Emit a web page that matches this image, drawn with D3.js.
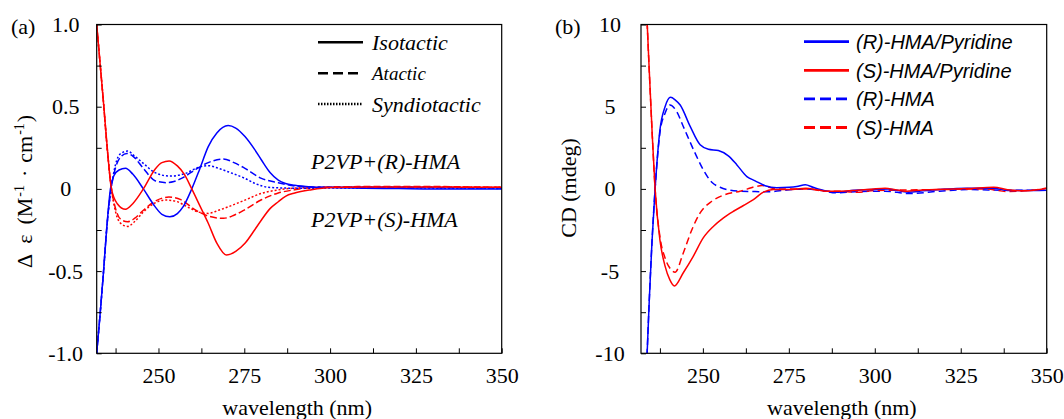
<!DOCTYPE html>
<html><head><meta charset="utf-8">
<script src="https://cdn.jsdelivr.net/npm/d3@7"></script>
<style>
body{margin:0;background:#fff;}
svg{display:block;}
</style></head>
<body>
<svg id="chart" width="1064" height="419"></svg>
<script>
// ---------- DATA ----------
// Panel (a): [wavelength nm, Δε]
const isoR = [[232,-1.0],[233,-0.76],[234,-0.5],[235,-0.22],[236,0.0],[237,0.08],[238.5,0.115],[240.4,0.125],[242.5,0.09],[245.6,0.0],[249,-0.108],[251,-0.155],[253.3,-0.17],[255.5,-0.15],[257.2,-0.108],[259.7,0.0],[262,0.12],[264.5,0.257],[267,0.34],[270.3,0.385],[272.5,0.37],[275.2,0.318],[278,0.24],[280,0.176],[282.5,0.1],[284.9,0.054],[287,0.033],[289.7,0.022],[294.6,0.012],[300,0.008],[310,0.004],[320,0.002],[330,0.0],[340,0.0],[350,0.0]];
const isoS = [[232,1.0],[233,0.76],[234,0.52],[235,0.27],[236.3,0.0],[238,-0.09],[240.4,-0.124],[242.5,-0.09],[245.6,0.0],[249,0.12],[251,0.16],[253.1,0.17],[255.5,0.14],[257.5,0.09],[259.7,0.0],[262,-0.1],[264.5,-0.209],[267,-0.33],[269.8,-0.402],[272.5,-0.38],[275.2,-0.331],[278,-0.25],[280,-0.189],[282.5,-0.12],[284.9,-0.078],[287,-0.045],[289.7,-0.025],[294.6,-0.005],[300,0.008],[310,0.012],[320,0.012],[330,0.012],[340,0.01],[350,0.01]];
const ataR = [[232,-1.0],[233,-0.76],[234,-0.5],[235,-0.22],[236.2,0.0],[237.5,0.13],[239,0.195],[240.8,0.216],[242.5,0.2],[245.6,0.125],[249,0.05],[252.3,0.038],[254.5,0.045],[256.7,0.064],[260.6,0.115],[264.5,0.16],[268.9,0.182],[272,0.16],[275.2,0.125],[280,0.064],[284.9,0.038],[289.7,0.018],[295,0.012],[300,0.01],[310,0.01],[320,0.01],[330,0.008],[340,0.006],[350,0.005]];
const syndR = [[232,-1.0],[233,-0.76],[234,-0.5],[235,-0.22],[236.2,0.0],[237.5,0.15],[239,0.215],[241,0.23],[243,0.2],[245.6,0.155],[249,0.099],[253.3,0.078],[257.7,0.093],[261.6,0.131],[264.5,0.141],[267.5,0.125],[270.3,0.104],[275.2,0.064],[278.5,0.03],[282,0.01],[290,0.004],[300,0.005],[320,0.005],[350,0.003]];
const ataS = [[232,1.0],[233,0.76],[234,0.52],[235,0.26],[236.3,0.0],[237.5,-0.12],[239,-0.185],[241,-0.2],[243,-0.18],[245.6,-0.13],[249,-0.075],[253,-0.05],[256.5,-0.065],[260.6,-0.126],[264.5,-0.165],[268.9,-0.179],[272,-0.16],[275.2,-0.126],[280,-0.066],[284.9,-0.025],[289.7,-0.005],[295,0.008],[300,0.012],[310,0.014],[320,0.014],[330,0.015],[340,0.012],[350,0.01]];
const syndS = [[232,1.0],[233,0.76],[234,0.52],[235,0.26],[236.3,0.0],[237.5,-0.14],[239,-0.21],[241,-0.228],[243,-0.2],[245.6,-0.14],[249,-0.085],[252,-0.068],[255,-0.075],[258.5,-0.11],[261.5,-0.14],[264.5,-0.149],[267.5,-0.13],[270.3,-0.109],[275.2,-0.068],[280,-0.027],[284.9,-0.006],[290,0.005],[300,0.01],[320,0.012],[350,0.01]];

// Panel (b): [wavelength nm, CD mdeg]
const pyrR = [[233.5,-11.5],[234.4,-6.8],[235.2,-3.2],[236.1,0],[237.5,3.58],[239,5.0],[240.6,5.57],[242,5.4],[243.4,5.1],[246.3,3.8],[249.2,2.68],[251.6,2.41],[254.5,2.33],[257.4,2.01],[259.9,1.46],[262.8,0.75],[265.2,0.49],[268.1,0.19],[271.5,0.07],[275.1,0.1],[277.3,0.15],[279.8,0.25],[282,0.1],[284.1,-0.04],[289,-0.2],[294,-0.08],[298.9,-0.04],[303.9,0],[309.8,-0.2],[314,-0.12],[318.8,-0.04],[326.7,0.04],[334.6,0.04],[338.6,-0.1],[343.5,-0.1],[350,-0.08]];
const pyrS = [[233.5,11.5],[234.4,7.2],[235.2,3.6],[236.1,0],[237.5,-3.1],[239,-4.7],[240.4,-5.53],[241.7,-5.9],[244.3,-5.1],[247.2,-4.1],[250.1,-2.98],[253.1,-2.27],[256,-1.76],[258.9,-1.36],[261.8,-1.01],[264.7,-0.65],[267.6,-0.2],[270.5,-0.04],[275,-0.04],[280,0.04],[283,-0.05],[286,-0.14],[290,-0.14],[295,-0.08],[299,-0.02],[303,0.04],[306,-0.05],[308.8,-0.14],[314,-0.06],[320,-0.02],[327,0.02],[334.6,0.1],[338.6,-0.05],[343.5,-0.12],[350,0.04]];
const hmaR = [[233.5,-11.5],[234.4,-6.8],[235.2,-3.2],[236.1,0],[237.5,3.4],[239,4.6],[240.4,5.1],[242.4,4.7],[244.3,3.8],[247.7,2.19],[250.1,1.17],[252.6,0.4],[255,0.1],[257,-0.04],[260.8,-0.14],[265.2,-0.16],[269,-0.18],[273,-0.1],[280,0.0],[284,-0.08],[289,-0.24],[295,-0.16],[303,-0.14],[310,-0.28],[318.8,-0.14],[327,-0.04],[338.6,-0.08],[350,-0.08]];
const hmaS = [[233.5,11.5],[234.4,7.2],[235.2,3.6],[236.1,0],[237.5,-2.9],[239,-4.2],[240.5,-4.85],[241.9,-5.07],[244.3,-3.9],[246.8,-2.48],[249.2,-1.46],[252.6,-0.75],[256.5,-0.34],[260.8,-0.14],[263,0.0],[265.7,0.16],[267.2,0.2],[269,0.12],[271.2,0.0],[280,0.0],[286,-0.14],[289,-0.14],[295,-0.2],[300,-0.1],[305,-0.08],[320,-0.04],[332,0.0],[338.6,-0.16],[343.5,-0.12],[350,0.04]];

// Tick values
const xTicks = [250, 275, 300, 325, 350];
const xMinor = [237.5, 262.5, 287.5, 312.5, 337.5];
const yTicksA = [-1.0, -0.5, 0, 0.5, 1.0];
const yMinorA = [-0.75, -0.25, 0.25, 0.75];
const yTicksB = [-10, -5, 0, 5, 10];
const yMinorB = [-7.5, -2.5, 2.5, 7.5];

// Legend labels
const legendA = ["Isotactic", "Atactic", "Syndiotactic"];
const legendB = ["(R)-HMA/Pyridine", "(S)-HMA/Pyridine", "(R)-HMA", "(S)-HMA"];

// ---------- DRAWING ----------
const BLUE = "#0000ff", RED = "#ff0000";
const SERIF = "'Liberation Serif','Times New Roman',serif";
const SANS = "'Liberation Sans',Arial,sans-serif";
const svg = d3.select("#chart");

function panel(opt) {
  const x = d3.scaleLinear().domain([232, 350]).range([opt.left, opt.right]);
  const y = d3.scaleLinear().domain(opt.yDomain).range([opt.bottom, opt.top]);
  const g = svg.append("g");
  const clipId = "clip" + opt.id;
  g.append("clipPath").attr("id", clipId).append("rect")
    .attr("x", opt.left).attr("y", opt.top)
    .attr("width", opt.right - opt.left).attr("height", opt.bottom - opt.top);

  const line = d3.line().x(d => x(d[0])).y(d => y(d[1])).curve(d3.curveMonotoneX);
  const lines = g.append("g").attr("clip-path", `url(#${clipId})`);
  opt.series.forEach(s => {
    lines.append("path").attr("d", line(s.data)).attr("fill", "none")
      .attr("stroke", s.color).attr("stroke-width", 1.5)
      .attr("stroke-dasharray", s.dash || null);
  });

  // axes (ticks inward)
  const xa = g.append("g").attr("transform", `translate(0,${opt.bottom})`)
    .call(d3.axisBottom(x).tickValues(xTicks).tickSize(-5).tickSizeOuter(0).tickPadding(14).tickFormat(d3.format("d")));
  const xm = g.append("g").attr("transform", `translate(0,${opt.bottom})`)
    .call(d3.axisBottom(x).tickValues(xMinor).tickSize(-5).tickSizeOuter(0).tickFormat(""));
  const ya = g.append("g").attr("transform", `translate(${opt.left},0)`)
    .call(d3.axisLeft(y).tickValues(opt.yTicks).tickSize(-5).tickSizeOuter(0).tickFormat(opt.yFormat));
  const ym = g.append("g").attr("transform", `translate(${opt.left},0)`)
    .call(d3.axisLeft(y).tickValues(opt.yMinor).tickSize(-5).tickSizeOuter(0).tickFormat(""));
  [xa, xm, ya, ym].forEach(a => {
    a.attr("font-family", SERIF).attr("font-size", 22);
    a.select(".domain").remove();
    a.selectAll("line").attr("stroke", "#000").attr("stroke-width", 1);
    a.selectAll("text").attr("font-family", SERIF).attr("font-size", 22).attr("fill", "#000");
  });
  ya.selectAll("text").attr("text-anchor", "middle").attr("x", -31);

  g.append("rect").attr("x", opt.left).attr("y", opt.top)
    .attr("width", opt.right - opt.left).attr("height", opt.bottom - opt.top)
    .attr("fill", "none").attr("stroke", "#000").attr("stroke-width", 1.2);

  // panel letter
  g.append("text").attr("x", opt.letterX).attr("y", 34).text(opt.letter)
    .attr("font-family", SERIF).attr("font-size", 22);
  // x title
  g.append("text").attr("x", (opt.left + opt.right) / 2 - 2).attr("y", 415)
    .attr("text-anchor", "middle").attr("font-family", SERIF).attr("font-size", 22)
    .text("wavelength (nm)");
  return {x, y, g};
}

// Panel (a)
const A = panel({
  id: "a", left: 96.7, right: 501.7, top: 24.5, bottom: 353.3,
  yDomain: [-1, 1], yTicks: yTicksA, yMinor: yMinorA,
  yFormat: d => d === 0 ? "0" : d3.format(".1f")(d).replace("−", "-"),
  letter: "(a)", letterX: 11,
  series: [
    {data: syndS, color: RED, dash: "2,2"},
    {data: ataS, color: RED, dash: "7,3"},
    {data: syndR, color: BLUE, dash: "2,2"},
    {data: ataR, color: BLUE, dash: "7,3"},
    {data: isoR, color: BLUE},
    {data: isoS, color: RED}
  ]
});

// y title (a)
const ta = svg.append("text").attr("transform", "translate(32,268) rotate(-90)")
  .attr("text-anchor", "start").attr("font-family", SERIF).attr("font-size", 22);
ta.append("tspan").text("Δ");
ta.append("tspan").text("ε").attr("dx", 10);
ta.append("tspan").text("(M").attr("dx", 10);
ta.append("tspan").text("-1").attr("font-size", 14).attr("dy", -8).attr("dx", 1);
ta.append("tspan").text("·").attr("dy", 8).attr("dx", 8);
ta.append("tspan").text("cm").attr("dx", 7);
ta.append("tspan").text("-1").attr("font-size", 14).attr("dy", -8).attr("dx", 1);
ta.append("tspan").text(")").attr("dy", 8).attr("dx", 1);

// legend (a)
const legDash = [null, "10,5", "1.5,1.5"];
const legSize = [22, 19, 22];
legendA.forEach((t, i) => {
  const yy = 42.3 + i * 30.9;
  svg.append("line").attr("x1", 318).attr("x2", 363).attr("y1", yy).attr("y2", yy)
    .attr("stroke", "#000").attr("stroke-width", 2.5).attr("stroke-dasharray", legDash[i]);
  svg.append("text").attr("x", 372).attr("y", yy).attr("dy", "0.35em")
    .attr("font-family", SERIF).attr("font-style", "italic").attr("font-size", legSize[i]).text(t);
});
// annotations (a)
svg.append("text").attr("x", 311).attr("y", 169).attr("font-family", SERIF)
  .attr("font-style", "italic").attr("font-size", 22).text("P2VP+(R)-HMA");
svg.append("text").attr("x", 311).attr("y", 227).attr("font-family", SERIF)
  .attr("font-style", "italic").attr("font-size", 22).text("P2VP+(S)-HMA");

// Panel (b)
const B = panel({
  id: "b", left: 641, right: 1046.7, top: 24.5, bottom: 353.3,
  yDomain: [-10, 10], yTicks: yTicksB, yMinor: yMinorB,
  yFormat: d => String(d),
  letter: "(b)", letterX: 555,
  series: [
    {data: hmaR, color: BLUE, dash: "7,4"},
    {data: hmaS, color: RED, dash: "7,4"},
    {data: pyrR, color: BLUE},
    {data: pyrS, color: RED}
  ]
});
svg.append("text").attr("transform", "translate(576,188) rotate(-90)")
  .attr("text-anchor", "middle").attr("font-family", SERIF).attr("font-size", 22)
  .text("CD (mdeg)");

// legend (b)
const legBColor = [BLUE, RED, BLUE, RED];
const legBDash = [null, null, "11,5", "11,5"];
legendB.forEach((t, i) => {
  const yy = 41.7 + i * 28.6;
  svg.append("line").attr("x1", 804).attr("x2", 849).attr("y1", yy).attr("y2", yy)
    .attr("stroke", legBColor[i]).attr("stroke-width", 2.8).attr("stroke-dasharray", legBDash[i]);
  svg.append("text").attr("x", 856).attr("y", yy).attr("dy", "0.36em")
    .attr("font-family", SANS).attr("font-style", "italic").attr("font-size", 20).text(t);
});
</script>
</body></html>
